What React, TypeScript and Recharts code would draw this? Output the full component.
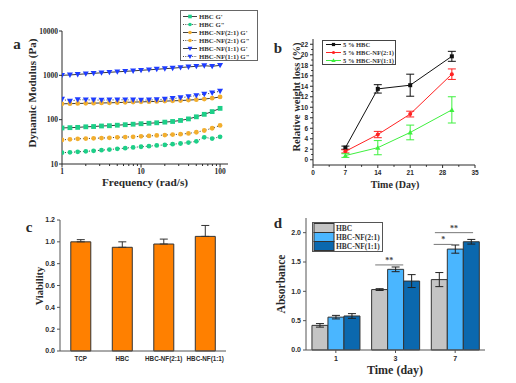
import React from "react";
import {
  LineChart,
  Line,
  BarChart,
  Bar,
  XAxis,
  YAxis,
  ErrorBar,
  ReferenceLine,
  Legend
} from "recharts";

// a: frequency sweep
const FREQ = [1, 1.26, 1.58, 2, 2.51, 3.16, 3.98, 5.01, 6.31, 7.94, 10, 12.6, 15.8, 20, 25.1, 31.6, 39.8, 50.1, 63.1, 79.4, 100];
const HBC_G1 = [65, 66, 67, 69, 70, 72, 73, 75, 77, 79, 81, 83, 85, 88, 91, 96, 104, 116, 132, 152, 180];
const HBC_G2 = [18, 18.3, 18.8, 19.3, 19.8, 20.5, 21.2, 22, 22.8, 23.7, 24.5, 25.3, 26.2, 27, 28, 29, 30.5, 32.5, 40, 37.5, 41];
const NF21_G1 = [228, 230, 232, 234, 236, 238, 240, 243, 246, 249, 252, 255, 258, 262, 266, 270, 276, 283, 292, 305, 325];
const NF21_G2 = [35, 36, 37, 37.5, 38, 38.5, 39, 40, 40.5, 41, 42, 43, 44, 45, 46, 47, 49, 52, 57, 64, 74];
const NF11_G1 = [1000, 1020, 1050, 1080, 1110, 1140, 1170, 1200, 1230, 1260, 1300, 1330, 1370, 1410, 1450, 1500, 1550, 1600, 1650, 1600, 1680];
const NF11_G2 = [290, 260, 282, 280, 278, 276, 278, 280, 280, 278, 276, 278, 282, 290, 300, 312, 330, 350, 375, 400, 440];
const FREQ_TICKS = [1, 2, 3, 4, 5, 6, 7, 8, 9, 10, 20, 30, 40, 50, 60, 70, 80, 90, 100];
const FREQ_LABELS = [1, 10, 100];
const MODULUS_TICKS = [10, 100, 1000, 10000];

// b: weight loss
const DAYS = [7, 14, 21, 30];
const HBC_LOSS = [2.3, 13.5, 14.2, 19.7];
const HBC_LOSS_ERR = [0.3, 0.8, 2.1, 0.95];
const NF21_LOSS = [1.6, 4.8, 8.7, 16.3];
const NF21_LOSS_ERR = [0.3, 0.6, 0.55, 1.0];
const NF11_LOSS = [0.8, 2.3, 5.2, 9.5];
const NF11_LOSS_ERR = [0.35, 1.35, 1.4, 2.5];
const DAY_TICKS = [0, 3.5, 7, 10.5, 14, 17.5, 21, 24.5, 28, 31.5, 35];
const LOSS_TICKS = [0, 1, 2, 3, 4, 5, 6, 7, 8, 9, 10, 11, 12, 13, 14, 15, 16, 17, 18, 19, 20, 21, 22];

// c: viability
const VIAB_GROUPS = ["TCP", "HBC", "HBC-NF(2:1)", "HBC-NF(1:1)"];
const VIAB = [1.0, 0.95, 0.98, 1.05];
const VIAB_ERR = [0.02, 0.05, 0.045, 0.1];
const VIAB_TICKS = [0, 0.2, 0.4, 0.6, 0.8, 1.0, 1.2];

// d: absorbance
const ABS_DAYS = ["1", "3", "7"];
const ABS_HBC = [0.42, 1.03, 1.2];
const ABS_HBC_ERR = [0.03, 0.015, 0.12];
const ABS_NF21 = [0.56, 1.375, 1.72];
const ABS_NF21_ERR = [0.03, 0.04, 0.07];
const ABS_NF11 = [0.58, 1.175, 1.845];
const ABS_NF11_ERR = [0.04, 0.11, 0.04];
const ABS_TICKS = [0, 0.5, 1, 1.5, 2];
// brackets, x in group units (group i spans i..i+1)
const SIGNIF = [
  { x1: 1.16, x2: 1.63, y: 1.45, mark: "**" },
  { x1: 2.14, x2: 2.46, y: 1.8, mark: "*" },
  { x1: 2.16, x2: 2.8, y: 2.0, mark: "**" }
];

const rheoData = FREQ.map((f, i) => ({
  f,
  hbcG1: HBC_G1[i],
  hbcG2: HBC_G2[i],
  nf21G1: NF21_G1[i],
  nf21G2: NF21_G2[i],
  nf11G1: NF11_G1[i],
  nf11G2: NF11_G2[i]
}));

const lossData = DAYS.map((day, i) => ({
  day,
  hbc: HBC_LOSS[i],
  hbcErr: HBC_LOSS_ERR[i],
  nf21: NF21_LOSS[i],
  nf21Err: NF21_LOSS_ERR[i],
  nf11: NF11_LOSS[i],
  nf11Err: NF11_LOSS_ERR[i]
}));

const viabData = VIAB_GROUPS.map((group, i) => ({
  group,
  v: VIAB[i],
  err: [0, VIAB_ERR[i]]
}));

const absData = ABS_DAYS.map((day, i) => ({
  day,
  hbc: ABS_HBC[i],
  hbcErr: ABS_HBC_ERR[i],
  nf21: ABS_NF21[i],
  nf21Err: ABS_NF21_ERR[i],
  nf11: ABS_NF11[i],
  nf11Err: ABS_NF11_ERR[i]
}));

// the helper numeric axis spans the data index range 0..n-1
const SPAN = ABS_DAYS.length - 1;
const toIdx = (x: number) => (x * SPAN) / ABS_DAYS.length;

const GREEN = "#1dcf88";
const ORANGE = "#f2ae2e";
const BLUE = "#1e3cff";

const RHEO_SERIES = [
  { key: "hbcG1", name: "HBC G'", color: GREEN, shape: "square", dotted: false },
  { key: "hbcG2", name: 'HBC G"', color: GREEN, shape: "circle", dotted: true },
  { key: "nf21G1", name: "HBC-NF(2:1) G'", color: ORANGE, shape: "circle", dotted: false },
  { key: "nf21G2", name: 'HBC-NF(2:1) G"', color: ORANGE, shape: "circle", dotted: true },
  { key: "nf11G1", name: "HBC-NF(1:1) G'", color: BLUE, shape: "down", dotted: false },
  { key: "nf11G2", name: 'HBC-NF(1:1) G"', color: BLUE, shape: "down", dotted: true }
];

const LOSS_SERIES = [
  { key: "hbc", err: "hbcErr", name: "5 % HBC", color: "#111111", shape: "square" },
  { key: "nf21", err: "nf21Err", name: "5 % HBC-NF(2:1)", color: "#ff2222", shape: "circle" },
  { key: "nf11", err: "nf11Err", name: "5 % HBC-NF(1:1)", color: "#3ef03e", shape: "up" }
];

const ABS_SERIES = [
  { key: "hbc", err: "hbcErr", name: "HBC", color: "#c4c4c4" },
  { key: "nf21", err: "nf21Err", name: "HBC-NF(2:1)", color: "#4ab6ff" },
  { key: "nf11", err: "nf11Err", name: "HBC-NF(1:1)", color: "#0b68ae" }
];

const SERIF = '"Liberation Serif", "Times New Roman", serif';
const SANS = '"Liberation Sans", Arial, sans-serif';
const INK = "#2a2a2a";

function drawMarker(shape: string, color: string, s: number, cx: number, cy: number, key?: any) {
  if (shape === "square")
    return <rect key={key} x={cx - s} y={cy - s} width={s * 2} height={s * 2} fill={color} />;
  if (shape === "circle") return <circle key={key} cx={cx} cy={cy} r={s} fill={color} />;
  if (shape === "down")
    return (
      <path key={key} d={`M${cx - s - 0.6},${cy - s}L${cx + s + 0.6},${cy - s}L${cx},${cy + s + 0.6}Z`} fill={color} />
    );
  return <path key={key} d={`M${cx - s - 0.6},${cy + s}L${cx + s + 0.6},${cy + s}L${cx},${cy - s - 0.6}Z`} fill={color} />;
}

const dotFn = (shape: string, color: string, s: number) => (p: any) => {
  if (p.cx == null || p.cy == null) return <g key={p.key} />;
  return drawMarker(shape, color, s, p.cx, p.cy, p.key);
};

const FreqTick = (p: any) => {
  const { x, y, payload } = p;
  const major = FREQ_LABELS.includes(payload.value);
  const ay = y - 5;
  return (
    <g>
      <line x1={x} x2={x} y1={ay} y2={ay + (major ? 3.5 : 2)} stroke={INK} />
      {major && (
        <text x={x} y={ay + 5} dy="0.71em" textAnchor="middle" fontSize={7.5} fontWeight="bold" fontFamily={SERIF} fill={INK}>
          {payload.value}
        </text>
      )}
    </g>
  );
};

const DayTick = (p: any) => {
  const { x, y, payload } = p;
  const major = payload.value % 7 === 0;
  const ay = y - 5;
  return (
    <g>
      <line x1={x} x2={x} y1={ay} y2={ay + (major ? 3 : 1.8)} stroke={INK} />
      {major && (
        <text x={x} y={ay + 5} dy="0.71em" textAnchor="middle" fontSize={6.5} fontWeight="bold" fontFamily={SANS} fill={INK}>
          {payload.value}
        </text>
      )}
    </g>
  );
};

const LossTick = (p: any) => {
  const { x, y, payload } = p;
  const major = payload.value % 2 === 0;
  const ax = x + 5;
  return (
    <g>
      <line x1={ax} x2={ax - (major ? 3 : 1.8)} y1={y} y2={y} stroke={INK} />
      {major && (
        <text x={ax - 5} y={y} dy="0.35em" textAnchor="end" fontSize={6.5} fontWeight="bold" fontFamily={SANS} fill={INK}>
          {payload.value}
        </text>
      )}
    </g>
  );
};

const RheoLegend = () => (
  <svg width={78} height={51} style={{ display: "block" }}>
    <rect x={0.5} y={0.5} width={77} height={50} fill="#fff" stroke="#666" />
    {RHEO_SERIES.map((s, i) => {
      const y = 6.5 + i * 8;
      return (
        <g key={s.key}>
          <line x1={3} x2={17} y1={y} y2={y} stroke="#444" strokeDasharray={s.dotted ? "1 1.3" : undefined} />
          {drawMarker(s.shape, s.color, 1.8, 10, y)}
          <text x={19} y={y} dy="0.35em" fontSize={6.8} fontWeight="bold" fontFamily={SERIF} fill="#333">
            {s.name}
          </text>
        </g>
      );
    })}
  </svg>
);

const LossLegend = () => (
  <svg width={74} height={25} style={{ display: "block" }}>
    <rect x={0.5} y={0.5} width={73} height={24} fill="#fff" stroke="#444" />
    {LOSS_SERIES.map((s, i) => {
      const y = 4.5 + i * 8;
      return (
        <g key={s.key}>
          <line x1={4} x2={19} y1={y} y2={y} stroke={s.color} />
          {drawMarker(s.shape, s.color, 1.6, 11.5, y)}
          <text x={21} y={y} dy="0.35em" fontSize={6.5} fontWeight="bold" fontFamily={SERIF} fill="#333">
            {s.name}
          </text>
        </g>
      );
    })}
  </svg>
);

const AbsLegend = () => (
  <svg width={71} height={30} style={{ display: "block" }}>
    <rect x={0.5} y={0.5} width={70} height={29} fill="#fff" stroke="#555" />
    {ABS_SERIES.map((s, i) => {
      const y = 1.5 + i * 9;
      return (
        <g key={s.key}>
          <rect x={2} y={y} width={20} height={9} fill={s.color} stroke="#333" />
          <text x={24} y={y + 4.5} dy="0.35em" fontSize={7.5} fontWeight="bold" fontFamily={SERIF} fill="#333">
            {s.name}
          </text>
        </g>
      );
    })}
  </svg>
);

const Title = ({ x, y, text, size, rotate }: { x: number; y: number; text: string; size: number; rotate?: boolean }) => (
  <div
    style={{
      position: "absolute",
      left: x,
      top: y,
      transform: `translate(-50%, -50%)${rotate ? " rotate(-90deg)" : ""}`,
      whiteSpace: "nowrap",
      fontFamily: SERIF,
      fontWeight: "bold",
      fontSize: size,
      lineHeight: 1,
      color: INK
    }}
  >
    {text}
  </div>
);

const boxAxis = { tick: false, tickLine: false, stroke: "#8a8a8a" } as const;

export default function App() {
  return (
    <div style={{ position: "absolute", left: 0, top: 0, width: 516, height: 383, background: "#fff", overflow: "hidden" }}>
      {/* a */}
      <div style={{ position: "absolute", left: 0, top: 0 }}>
        <LineChart width={260} height={200} data={rheoData} margin={{ top: 31, right: 32, left: 32, bottom: 22 }}>
          <XAxis
            dataKey="f"
            type="number"
            scale="log"
            domain={[1, 126]}
            allowDataOverflow
            ticks={FREQ_TICKS}
            interval={0}
            tick={<FreqTick />}
            tickLine={false}
            tickSize={3}
            tickMargin={2}
            height={14}
            stroke={INK}
          />
          <YAxis
            type="number"
            scale="log"
            domain={[10, 10000]}
            allowDataOverflow
            ticks={MODULUS_TICKS}
            interval={0}
            width={30}
            tickSize={3}
            tickMargin={1}
            stroke={INK}
            tick={{ fontSize: 7.5, fontWeight: "bold", fontFamily: SERIF, fill: INK }}
          />
          <Legend
            layout="vertical"
            align="center"
            verticalAlign="middle"
            content={<RheoLegend />}
            wrapperStyle={{ left: 180, top: 10, width: 78, height: 51 }}
          />
          {RHEO_SERIES.map((s) => (
            <Line
              key={s.key}
              dataKey={s.key}
              name={s.name}
              stroke="#3a3a3a"
              strokeWidth={1}
              strokeDasharray={s.dotted ? "1 2" : undefined}
              dot={dotFn(s.shape, s.color, 2.4)}
              activeDot={false}
              isAnimationActive={false}
            />
          ))}
        </LineChart>
      </div>

      {/* b */}
      <div style={{ position: "absolute", left: 258, top: 0 }}>
        <LineChart width={258} height={200} data={lossData} margin={{ top: 39, right: 41, left: 25, bottom: 19 }}>
          <XAxis
            dataKey="day"
            type="number"
            domain={[0, 35]}
            ticks={DAY_TICKS}
            interval={0}
            tick={<DayTick />}
            tickLine={false}
            tickSize={3}
            tickMargin={2}
            height={16}
            stroke={INK}
          />
          <YAxis
            type="number"
            domain={[-1, 23]}
            ticks={LOSS_TICKS}
            interval={0}
            tick={<LossTick />}
            tickLine={false}
            tickSize={3}
            tickMargin={2}
            width={30}
            stroke={INK}
          />
          <Legend
            layout="vertical"
            align="center"
            verticalAlign="middle"
            content={<LossLegend />}
            wrapperStyle={{ left: 64, top: 40, width: 74, height: 25 }}
          />
          {LOSS_SERIES.map((s) => (
            <Line
              key={s.key}
              dataKey={s.key}
              name={s.name}
              stroke={s.color}
              strokeWidth={1}
              dot={dotFn(s.shape, s.color, 2)}
              activeDot={false}
              isAnimationActive={false}
            >
              <ErrorBar dataKey={s.err} width={4} stroke={s.color} strokeWidth={1} direction="y" />
            </Line>
          ))}
        </LineChart>
      </div>

      {/* c */}
      <div style={{ position: "absolute", left: 0, top: 200 }}>
        <BarChart width={260} height={180} data={viabData} margin={{ top: 20, right: 34, left: 30, bottom: 9 }} barCategoryGap="26%">
          <XAxis
            dataKey="group"
            height={20}
            tickSize={0}
            tickMargin={6}
            interval={0}
            stroke="#555"
            tick={{ fontSize: 6.3, fontWeight: "bold", fontFamily: SANS, fill: INK }}
          />
          <XAxis xAxisId="top" orientation="top" height={0} {...boxAxis} />
          <YAxis
            type="number"
            domain={[0, 1.2]}
            ticks={VIAB_TICKS}
            interval={0}
            tickFormatter={(v: number) => v.toFixed(1)}
            width={30}
            tickSize={3}
            tickMargin={2}
            stroke="#555"
            tick={{ fontSize: 7, fontWeight: "bold", fontFamily: SANS, fill: INK }}
          />
          <YAxis yAxisId="r" orientation="right" width={0} {...boxAxis} />
          <Bar dataKey="v" fill="#ff8000" stroke="#333" strokeWidth={1} isAnimationActive={false}>
            <ErrorBar dataKey="err" width={4} stroke="#333" strokeWidth={1} />
          </Bar>
        </BarChart>
      </div>

      {/* d */}
      <div style={{ position: "absolute", left: 258, top: 200 }}>
        <BarChart
          width={258}
          height={180}
          data={absData}
          margin={{ top: 18, right: 31, left: 18, bottom: 10 }}
          barCategoryGap="10%"
          barGap={0}
        >
          <XAxis
            dataKey="day"
            height={20}
            tickSize={3}
            tickMargin={3}
            interval={0}
            stroke="#555"
            tick={{ fontSize: 7, fontWeight: "bold", fontFamily: SANS, fill: INK }}
          />
          <XAxis
            xAxisId="num"
            type="number"
            domain={[0, SPAN]}
            allowDataOverflow
            orientation="top"
            height={0}
            {...boxAxis}
          />
          <YAxis
            type="number"
            domain={[0, 2.25]}
            ticks={ABS_TICKS}
            interval={0}
            tickFormatter={(v: number) => v.toFixed(1)}
            width={30}
            tickSize={3}
            tickMargin={2}
            stroke="#555"
            tick={{ fontSize: 7, fontWeight: "bold", fontFamily: SANS, fill: INK }}
          />
          <YAxis yAxisId="r" orientation="right" width={0} {...boxAxis} />
          <Legend
            layout="vertical"
            align="center"
            verticalAlign="middle"
            content={<AbsLegend />}
            wrapperStyle={{ left: 54, top: 22, width: 71, height: 30 }}
          />
          {ABS_SERIES.map((s) => (
            <Bar key={s.key} dataKey={s.key} name={s.name} fill={s.color} stroke="#333" strokeWidth={1} isAnimationActive={false}>
              <ErrorBar dataKey={s.err} width={4} stroke="#222" strokeWidth={1} />
            </Bar>
          ))}
          {SIGNIF.map((s, i) => (
            <ReferenceLine
              key={i}
              xAxisId="num"
              segment={[
                { x: toIdx(s.x1), y: s.y },
                { x: toIdx(s.x2), y: s.y }
              ]}
              stroke="#777"
              ifOverflow="visible"
              label={{ value: s.mark, position: "top", fontSize: 8, fontWeight: "bold", fill: "#444", offset: 2 }}
            />
          ))}
        </BarChart>
      </div>

      <Title x={17} y={44} text="a" size={15} />
      <Title x={278} y={48} text="b" size={15} />
      <Title x={29} y={227} text="c" size={15} />
      <Title x={278} y={223} text="d" size={15} />

      <Title x={32} y={93} text="Dynamic Modulus (Pa)" size={11} rotate />
      <Title x={145} y={183} text="Frequency (rad/s)" size={11.3} />
      <Title x={297} y={97} text="Relative weight loss (%)" size={10.6} rotate />
      <Title x={395} y={185} text="Time (Day)" size={10} />
      <Title x={40} y={286} text="Viability" size={10.5} rotate />
      <Title x={282} y={284} text="Absorbance" size={11.5} rotate />
      <Title x={395} y={370} text="Time (day)" size={12} />
    </div>
  );
}
